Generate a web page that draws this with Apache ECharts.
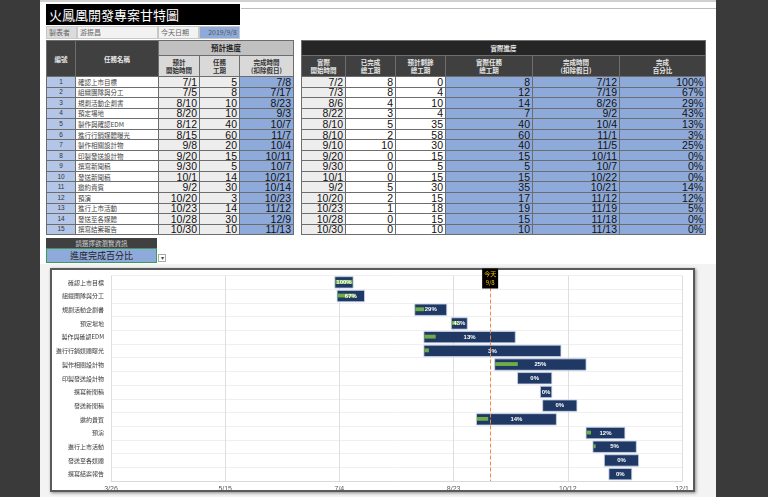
<!DOCTYPE html>
<html><head><meta charset="utf-8">
<script src="https://cdn.jsdelivr.net/npm/echarts/dist/echarts.min.js"></script>
<style>
html,body{margin:0;padding:0;}
body{width:768px;height:497px;overflow:hidden;position:relative;background:#3a3a3a;font-family:"Liberation Sans","Noto Sans CJK TC",sans-serif;}
.sheet{position:absolute;left:40px;top:0;width:676px;height:497px;background:#fff;}
.abs{position:absolute;box-sizing:border-box;}
.title{left:46px;top:4px;width:194px;height:21px;background:#000;color:#fff;font:13px "Noto Sans CJK TC";line-height:21px;padding-left:3px;}
.info{top:26px;height:13px;font:7px "Noto Sans CJK TC";line-height:11px;color:#666;padding-left:2px;}
table{position:absolute;border-collapse:collapse;table-layout:fixed;}
td,th{border:1px solid #6d6d6d;padding:0 2px;overflow:hidden;white-space:nowrap;}
th{font:bold 6.5px "Noto Sans CJK TC";line-height:8px;text-align:center;}
.dk{background:#404040;color:#e8e8e8;}
.bk{background:#262626;color:#e8e8e8;}
.g1{background:#c0c0c0;color:#222;font-size:7.5px;}
.g2{background:#d9d9d9;color:#333;}
tbody tr{height:10.55px;}
td{font-size:10.5px;line-height:8px;color:#111;text-align:right;}
td.no{background:#b4c6e7;font-size:6.5px;text-align:center;color:#333;}
td.nm{background:#fff;font:6.5px "Noto Sans CJK TC";line-height:8px;text-align:left;color:#444;}
td.lg{background:#ededed;}
td.wh{background:#fff;}
td.bl{background:#8eaadb;}
</style></head>
<body>
<div class="sheet"></div>
<div class="abs" style="left:40px;top:0;width:676px;height:2px;background:#d0d0d0"></div>
<div class="abs" style="left:241px;top:8px;width:475px;height:1px;background:#bdbdbd"></div>
<div class="abs title">火鳳凰開發專案甘特圖</div>
<div class="abs info" style="left:46px;width:31px;background:#dcdcdc;border:1px solid #c8c8c8">製表者</div>
<div class="abs info" style="left:77px;width:81px;background:#f2f2f2;border:1px solid #c8c8c8">游振昌</div>
<div class="abs info" style="left:158px;width:41px;background:#f2f2f2;border:1px solid #c8c8c8">今天日期</div>
<div class="abs info" style="left:199px;width:41px;background:#8eaadb;border:1px solid #c8c8c8;text-align:right;padding-right:2px;color:#555">2019/9/8</div>

<table id="tL" style="left:46px;top:40px;width:247px">
<colgroup><col style="width:29px"><col style="width:83px"><col style="width:41px"><col style="width:40px"><col style="width:54px"></colgroup>
<thead>
<tr style="height:15px"><th rowspan="2" class="dk">編號</th><th rowspan="2" class="dk">任務名稱</th><th colspan="3" class="g1">預計進度</th></tr>
<tr style="height:21px"><th class="g2">預計<br>開始時間</th><th class="g2">任務<br>工期</th><th class="g2">完成時間<br>(扣除假日)</th></tr>
</thead><tbody></tbody></table>

<table id="tR" style="left:301px;top:40px;width:404px">
<colgroup><col style="width:44px"><col style="width:50px"><col style="width:50px"><col style="width:87px"><col style="width:87px"><col style="width:86px"></colgroup>
<thead>
<tr style="height:15px"><th colspan="6" class="bk">實際進度</th></tr>
<tr style="height:21px"><th class="dk">實際<br>開始時間</th><th class="dk">已完成<br>總工期</th><th class="dk">預計剩餘<br>總工期</th><th class="dk">實際任務<br>總工期</th><th class="dk">完成時間<br>(扣除假日)</th><th class="dk">完成<br>百分比</th></tr>
</thead><tbody></tbody></table>

<div class="abs" style="left:46px;top:238px;width:111px;height:10px;background:#404040;color:#ddd;font:6.5px 'Noto Sans CJK TC';line-height:10px;text-align:center">請選擇欲瀏覽資訊</div>
<div class="abs" style="left:46px;top:248px;width:111px;height:15px;background:#8eaadb;border:1px solid #3d9a5a;color:#222;font:9px 'Noto Sans CJK TC';line-height:13px;text-align:center">進度完成百分比</div>
<div class="abs" style="left:158px;top:254px;width:8px;height:8px;background:#fff;border:1px solid #aaa;font:6px sans-serif;line-height:6px;text-align:center;color:#444">▾</div>

<div class="abs" style="left:40px;top:264px;width:676px;height:233px;background:#f3f3f3"></div>
<div class="abs" style="left:50px;top:268px;width:645px;height:224px;background:#fff;border:2px solid #5a5a5a;box-shadow:1px 1px 3px #888"></div>
<div id="chart" class="abs" style="left:48px;top:262px;width:650px;height:235px"></div>

<script>
// ---- data ----
var taskNo = [1,2,3,4,5,6,7,8,9,10,11,12,13,14,15];
var tasks = ['確認上市目標','組織團隊與分工','規劃活動企劃書','預定場地','製作與確認EDM','進行行銷媒體曝光','製作相關設計物','印製發送設計物','撰寫新聞稿','發送新聞稿','邀約貴賓','預演','進行上市活動','發送至各媒體','撰寫結案報告'];
var planStart = ['7/1','7/5','8/10','8/20','8/12','8/15','9/8','9/20','9/30','10/1','9/2','10/20','10/23','10/28','10/30'];
var planDur = [5,8,10,10,40,60,20,15,5,14,30,3,14,30,10];
var planEnd = ['7/8','7/17','8/23','9/3','10/7','11/7','10/4','10/11','10/7','10/21','10/14','10/23','11/12','12/9','11/13'];
var actStart = ['7/2','7/3','8/6','8/22','8/10','8/10','9/10','9/20','9/30','10/1','9/2','10/20','10/23','10/28','10/30'];
var doneDays = [8,8,4,3,5,2,10,0,0,0,5,2,1,0,0];
var remainDays = [0,4,10,4,35,58,30,15,5,15,30,15,18,15,10];
var actDur = [8,12,14,7,40,60,40,15,5,15,35,17,19,15,10];
var actEnd = ['7/12','7/19','8/26','9/2','10/4','11/1','11/5','10/11','10/7','10/22','10/21','11/12','11/19','11/18','11/13'];
var pctDone = ['100%','67%','29%','43%','13%','3%','25%','0%','0%','0%','14%','12%','5%','0%','0%'];
var todayLabel = '9/8';
var axisStart = '3/26';
var axisEnd = '12/1';
var axisStepDays = 50;
var year = 2019;

// ---- tables ----
function cell(cls, txt){ return '<td class="'+cls+'">'+txt+'</td>'; }
var lb = document.querySelector('#tL tbody'), rb = document.querySelector('#tR tbody');
var lh='', rh='';
for (var i=0;i<tasks.length;i++){
  lh += '<tr>'+cell('no',taskNo[i])+cell('nm',tasks[i])+cell('lg',planStart[i])+cell('lg',planDur[i])+cell('bl',planEnd[i])+'</tr>';
  rh += '<tr>'+cell('lg',actStart[i])+cell('wh',doneDays[i])+cell('wh',remainDays[i])+cell('bl',actDur[i])+cell('bl',actEnd[i])+cell('bl',pctDone[i])+'</tr>';
}
lb.innerHTML = lh; rb.innerHTML = rh;

// ---- gantt ----
var base = Date.UTC(year, 2, 26);
function dayOf(md){ var p = md.split('/'); return Math.round((Date.UTC(year, +p[0]-1, +p[1]) - base)/86400000); }
function mdOf(v){ var d = new Date(base + v*86400000); return (d.getUTCMonth()+1)+'/'+d.getUTCDate(); }

// [start day, category index, duration, done days]
var ganttData = tasks.map(function(t,i){ return [dayOf(actStart[i]), i, actDur[i], doneDays[i]]; });

var chart = echarts.init(document.getElementById('chart'), null, {renderer:'canvas'});
chart.setOption({
  animation:false,
  grid:{left:63, top:13.5, width:571, height:205.5},
  xAxis:{type:'value', min:dayOf(axisStart), max:dayOf(axisEnd), interval:axisStepDays,
    axisLabel:{formatter:mdOf, fontSize:7, color:'#595959', margin:5, fontFamily:'Liberation Sans'},
    axisLine:{show:true, lineStyle:{color:'#d9d9d9'}}, axisTick:{show:false},
    splitLine:{show:true, lineStyle:{color:'#dedede', width:1}}},
  yAxis:{type:'category', data:tasks, inverse:true,
    axisLabel:{fontSize:6, color:'#3a3a3a', margin:7, fontFamily:'Noto Sans CJK TC'},
    axisLine:{show:false}, axisTick:{show:false},
    splitLine:{show:true, lineStyle:{color:'#efefef'}}},
  series:[{
    type:'custom',
    data:ganttData,
    renderItem:function(params, api){
      var s=api.value(0), c=api.value(1), d=api.value(2), done=api.value(3);
      var a=api.coord([s,c]), b=api.coord([s+d,c]);
      var bh=api.size([0,1])[1];
      var h=bh*0.83, gh=bh*0.28, w=b[0]-a[0];
      var ch=[{type:'rect', shape:{x:a[0], y:a[1]-h/2, width:w, height:h}, style:{fill:'#203864', stroke:'#c9d6ee', lineWidth:0.8}}];
      if(done>0){ ch.push({type:'rect', shape:{x:a[0]+0.5, y:a[1]-gh/2-0.5, width:(w-1)*done/d, height:gh}, style:{fill:'#70ad47'}}); }
      ch.push({type:'text', style:{text:pctDone[params.dataIndex], x:(a[0]+b[0])/2, y:a[1], align:'center', verticalAlign:'middle', fill:'#ffffff', font:'bold 6px "Liberation Sans"'}});
      return {type:'group', children:ch};
    }
  },{
    type:'line', data:[], silent:true,
    markLine:{silent:true, symbol:'none', animation:false,
      lineStyle:{color:'#f08a4b', type:'dashed', width:1},
      label:{show:true, position:'start', distance:-13, formatter:'今天\n'+todayLabel, backgroundColor:'#000', color:'#ffc000', fontSize:6, lineHeight:9, padding:[1,2], fontFamily:'Noto Sans CJK TC'},
      data:[{xAxis:dayOf(todayLabel)}]}
  }]
});
</script>
</body></html>
